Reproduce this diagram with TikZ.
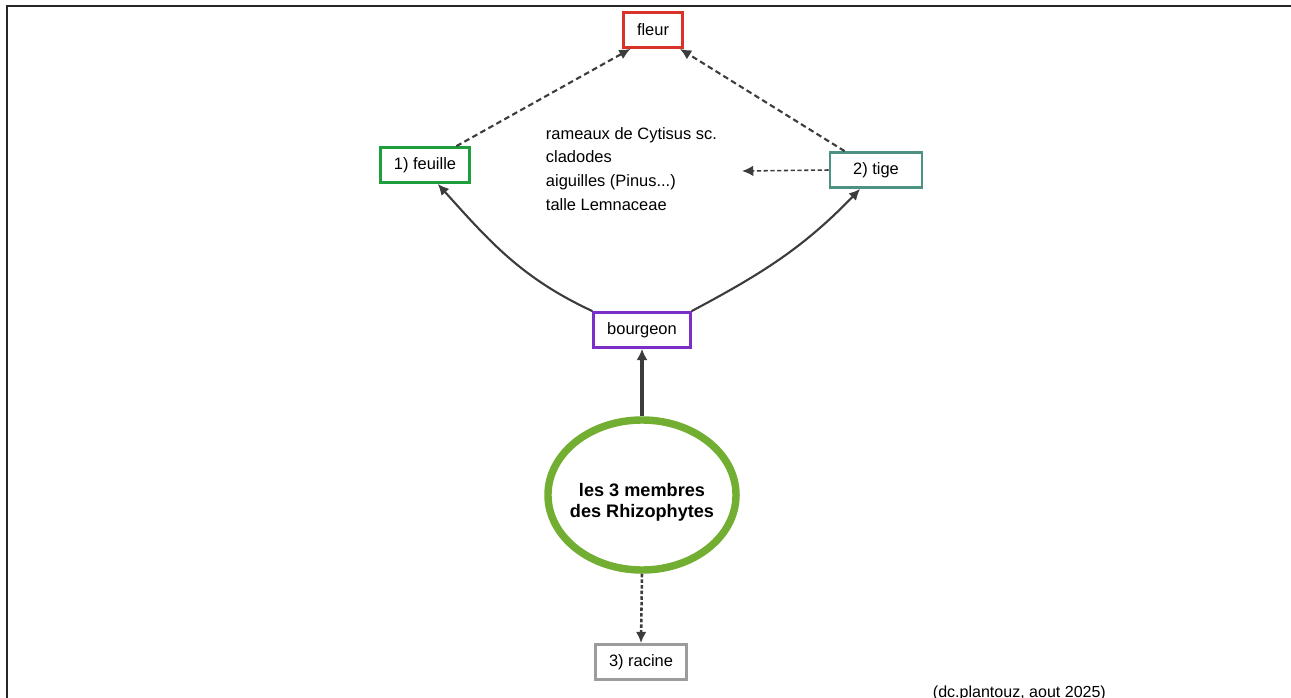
\documentclass[tikz,border=0pt]{standalone}
\usepackage{fontspec}
\setmainfont{Liberation Sans}
\usetikzlibrary{arrows.meta,shapes.geometric}

\definecolor{fleurred}{HTML}{D8322B}
\definecolor{feuillegreen}{HTML}{1E9E3C}
\definecolor{tigeteal}{HTML}{4E9284}
\definecolor{bourgeonpurple}{HTML}{7A30C8}
\definecolor{racinegray}{HTML}{9C9C9C}
\definecolor{membregreen}{HTML}{72AE32}
\definecolor{arrowgray}{HTML}{3C3C3C}

\tikzset{
	organe/.style={draw, line width=2.1pt, fill=white, inner xsep=9.5pt, minimum height=0.87cm, font=\fontsize{11.7}{14}\selectfont},
	pousse/.style={draw=arrowgray, line width=1.5pt, -{Latex[length=8pt,width=7.5pt]}},
	lien/.style={pousse, dash pattern=on 4pt off 2.5pt},
}

\begin{document}
\begin{tikzpicture}[x=0.025cm,y=-0.025cm]
	\useasboundingbox (0,0) rectangle (1291,698);
	%frame
	\draw[line width=1.6pt, black!85] (7,698) -- (7,6) -- (1291,6);
	
	%the members
	\node[organe, draw=fleurred] (fleur) at (653,30) {fleur};
	\node[organe, draw=feuillegreen] (feuille) at (425,165) {1) feuille};
	\node[organe, draw=tigeteal, minimum width=2.3cm] (tige) at (876,170) {2) tige};
	\node[organe, draw=bourgeonpurple] (bourgeon) at (642,330) {bourgeon};
	\node[organe, draw=racinegray] (racine) at (641,662) {3) racine};
	
	%center ellipse
	\node[ellipse, draw=membregreen, line width=5.3pt, inner ysep=0pt, inner xsep=-5pt, minimum width=4.7cm, minimum height=3.75cm, align=center, font=\fontsize{12.9}{14.5}\selectfont\bfseries] (membres) at (642,495) {\rule{0pt}{20pt}les 3 membres\\des Rhizophytes};
	
	%examples of stems
	\node[anchor=west, align=left, font=\fontsize{11.7}{17}\selectfont] (exemples) at (541,169) {rameaux de Cytisus sc.\\cladodes\\aiguilles (Pinus...)\\talle Lemnaceae};
	\coordinate (exfin) at (742,171);
	
	%arrows
	\draw[lien] (feuille.31) -- (fleur.-140);
	\draw[lien] (tige.149) -- (fleur.-35);
	\draw[lien, line width=1.1pt, dash pattern=on 3pt off 1.8pt] (tige.west) -- (exfin);
	\draw[pousse] (bourgeon.north west) to[out=155, in=-48] (feuille.-56);
	\draw[pousse] (bourgeon.north east) to[out=28, in=-134] (tige.-130);
	\draw[pousse, line width=2.8pt, -{Latex[length=8pt,width=8pt]}] (membres.north) -- (bourgeon.south);
	\draw[lien, line width=1.8pt, dash pattern=on 2.5pt off 1.5pt] (membres.south) -- (racine.north);
	
	\node[anchor=base west, font=\fontsize{11.4}{14}\selectfont] (credit) at (928,697) {(dc.plantouz, aout 2025)};
\end{tikzpicture}
\end{document}
